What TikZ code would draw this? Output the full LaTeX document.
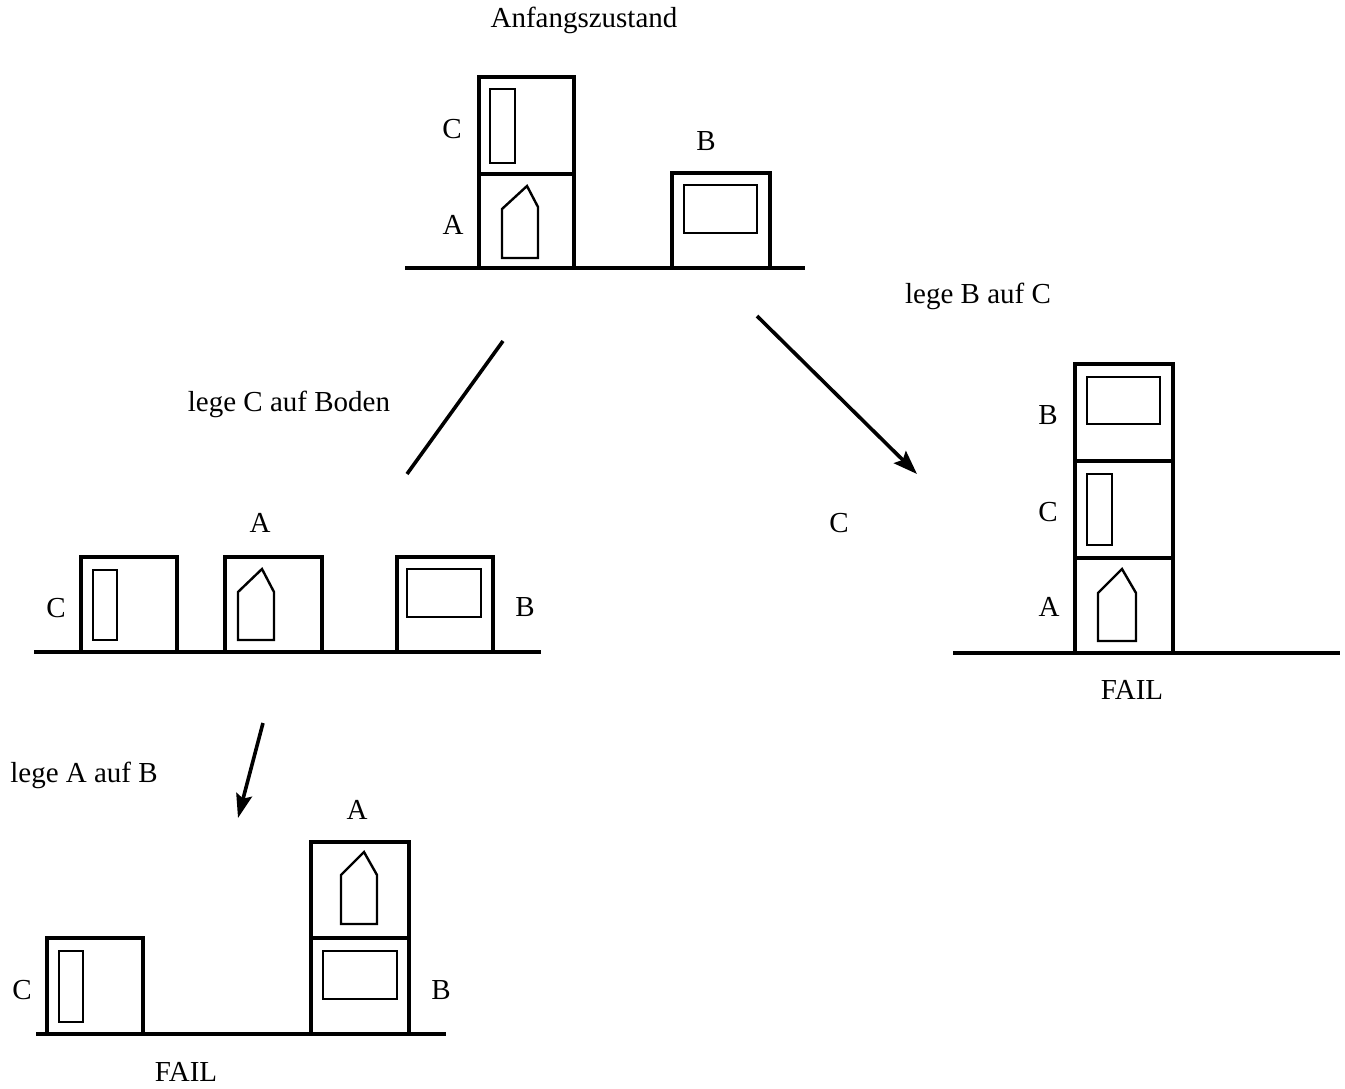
\documentclass[tikz,border=0pt]{standalone}
\usepackage{fontspec}
\setmainfont{Liberation Serif}
\usetikzlibrary{arrows.meta}
\begin{document}
\begin{tikzpicture}[x=1pt,y=-1pt,
  block/.style={draw=black,line width=3.2pt},
  inner/.style={draw=black,line width=2.4pt},
  ground/.style={draw=black,line width=4.8pt},
  move/.style={draw=black,line width=3.6pt},
  lbl/.style={inner sep=0pt,font=\fontsize{29}{34}\selectfont},
  txt/.style={inner sep=0pt,font=\fontsize{29}{34}\selectfont}]
\useasboundingbox (0,0) rectangle (1345,1089);
\fill[white] (0,0) rectangle (1345,1089);

% ---- initial state: C on A, B alone
\node[txt] (title) at (584,20) {Anfangszustand};
\draw[ground] (405,268) -- (805,268);
\draw[block] (479,77) rectangle (574,174);
\draw[block] (479,174) rectangle (574,268);
\draw[inner] (490,89) rectangle (515,163);
\draw[inner] (502,258) -- (502,209) -- (527,186) -- (538,207) -- (538,258) -- cycle;
\draw[block] (672,173) rectangle (770,268);
\draw[inner] (684,185) rectangle (757,233);
\node[lbl] (c0) at (452,129) {C};
\node[lbl] (a0) at (453,225) {A};
\node[lbl] (b0) at (706,141) {B};

% ---- moves out of the initial state
\coordinate (m1s) at (503,341);
\coordinate (m1e) at (407,474);
\draw[move] (m1s) -- (m1e);
\node[txt] (m1) at (289,404) {lege C auf Boden};
\coordinate (m2s) at (757,316);
\coordinate (m2e) at (917,474);
\draw[move,-{Stealth[length=24pt,width=17pt,inset=4pt]}] (m2s) -- (m2e);
\node[txt] (m2) at (978,296) {lege B auf C};
\node[lbl] (cx) at (839,523) {C};

% ---- all three blocks on the floor
\draw[ground] (34,652) -- (541,652);
\draw[block] (81,557) rectangle (177,652);
\draw[inner] (93,570) rectangle (117,640);
\draw[block] (225,557) rectangle (322,652);
\draw[inner] (238,640) -- (238,592) -- (262,569) -- (274,592) -- (274,640) -- cycle;
\draw[block] (397,557) rectangle (493,652);
\draw[inner] (407,569) rectangle (481,617);
\node[lbl] (c1) at (56,608) {C};
\node[lbl] (a1) at (260,523) {A};
\node[lbl] (b1) at (525,607) {B};

% ---- tower B on C on A
\draw[ground] (953,653) -- (1340,653);
\draw[block] (1075,364) rectangle (1173,461);
\draw[block] (1075,461) rectangle (1173,558);
\draw[block] (1075,558) rectangle (1173,653);
\draw[inner] (1087,377) rectangle (1160,424);
\draw[inner] (1087,474) rectangle (1112,545);
\draw[inner] (1098,641) -- (1098,593) -- (1122,569) -- (1136,593) -- (1136,641) -- cycle;
\node[lbl] (b2) at (1048,415) {B};
\node[lbl] (c2) at (1048,512) {C};
\node[lbl] (a2) at (1049,607) {A};
\node[txt] (f2) at (1132,690) {FAIL};

% ---- move out of the floor state
\coordinate (m3s) at (263,723);
\coordinate (m3e) at (238,818);
\draw[move,-{Stealth[length=24pt,width=16pt,inset=4pt]}] (m3s) -- (m3e);
\node[txt] (m3) at (84,775) {lege A auf B};

% ---- C alone, A on B
\draw[ground] (36,1034) -- (446,1034);
\draw[block] (47,938) rectangle (143,1034);
\draw[inner] (59,951) rectangle (83,1022);
\draw[block] (311,842) rectangle (409,938);
\draw[block] (311,938) rectangle (409,1034);
\draw[inner] (341,924) -- (341,875) -- (364,852) -- (377,875) -- (377,924) -- cycle;
\draw[inner] (323,951) rectangle (397,999);
\node[lbl] (a3) at (357,810) {A};
\node[lbl] (c3) at (22,990) {C};
\node[lbl] (b3) at (441,990) {B};
\node[txt] (f3) at (186,1072) {FAIL};
\end{tikzpicture}
\end{document}
